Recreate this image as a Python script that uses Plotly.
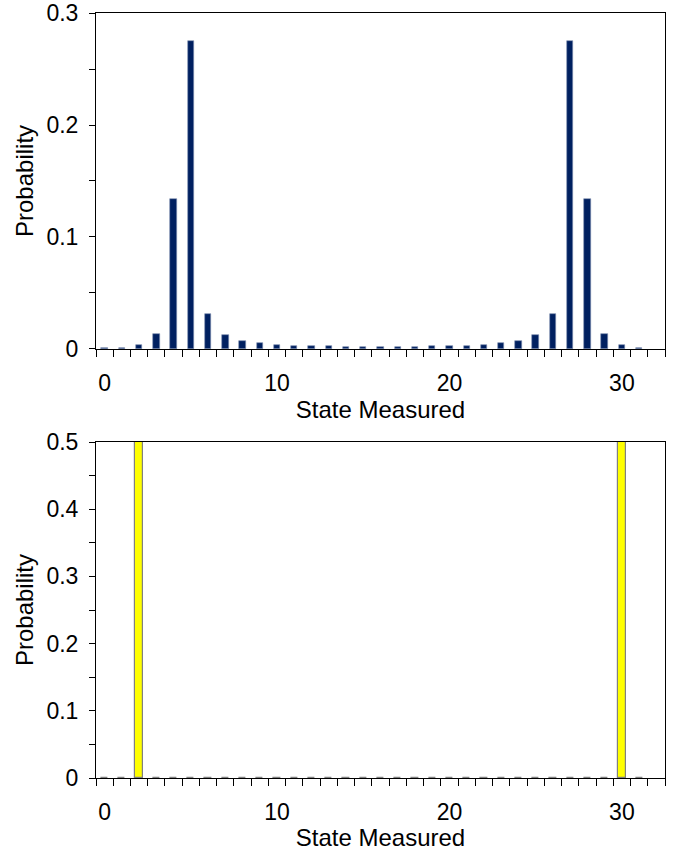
import plotly.graph_objects as go

states = list(range(32))
prob_top = [0.0006, 0.0009, 0.0033, 0.0131, 0.134, 0.275, 0.031, 0.0125, 0.0071, 0.005,
            0.0038, 0.003, 0.0026, 0.0023, 0.002, 0.0019, 0.0019, 0.0019, 0.002, 0.0023,
            0.0026, 0.003, 0.0038, 0.005, 0.0071, 0.0125, 0.031, 0.275, 0.134, 0.0131,
            0.0033, 0.0009]
prob_bottom = [0, 0, 0.5, 0, 0, 0, 0, 0, 0, 0, 0, 0, 0, 0, 0, 0,
               0, 0, 0, 0, 0, 0, 0, 0, 0, 0, 0, 0, 0, 0, 0.5, 0]
x_ticks = [0, 10, 20, 30]
y_ticks_top = [0, 0.1, 0.2, 0.3]
y_ticks_bottom = [0, 0.1, 0.2, 0.3, 0.4, 0.5]

FONT = "Liberation Sans, Arial, sans-serif"
FS_TICK = 23
FS_TITLE = 24

fig = go.Figure()
fig.add_trace(go.Bar(x=states, y=prob_top, width=0.37, xaxis="x", yaxis="y",
                     marker=dict(color="#002060", line=dict(color="#7f8fb0", width=0.6)),
                     showlegend=False))
fig.add_trace(go.Bar(x=states, y=prob_bottom, width=0.42, xaxis="x2", yaxis="y2",
                     marker=dict(color="#FFFF00", line=dict(color="#808080", width=1.2)),
                     showlegend=False))

def xax(anchor):
    return dict(anchor=anchor, range=[-0.5, 32.5], tickmode="array", tickvals=x_ticks,
                ticktext=[str(v) for v in x_ticks], ticks="", showgrid=False, zeroline=False,
                showline=True, linecolor="#000000", linewidth=1, mirror=True,
                automargin=False,
                minor=dict(tickmode="linear", tick0=-0.5, dtick=1, ticks="outside",
                           ticklen=7, tickcolor="#000000", tickwidth=1, showgrid=False),
                tickfont=dict(family=FONT, size=FS_TICK, color="#000000"),
                ticklabelstandoff=13,
                title=dict(text="State Measured", font=dict(family=FONT, size=FS_TITLE, color="#000000"),
                           standoff=0))

def yax(anchor, rng, vals, domain):
    return dict(anchor=anchor, domain=domain, range=rng, tickmode="array", tickvals=vals,
                ticktext=[("0" if v == 0 else f"{v:g}") for v in vals],
                ticks="outside", ticklen=6, tickcolor="#000000", tickwidth=1,
                showgrid=False, zeroline=False, showline=True, linecolor="#000000",
                linewidth=1, mirror=True, automargin=False,
                minor=dict(tickmode="linear", tick0=0, dtick=0.05, ticks="outside",
                           ticklen=6, tickcolor="#000000", tickwidth=1, showgrid=False),
                tickfont=dict(family=FONT, size=FS_TICK, color="#000000"),
                ticklabelstandoff=6,
                title=dict(text="Probability", font=dict(family=FONT, size=FS_TITLE, color="#000000"),
                           standoff=6))

fig.update_layout(
    width=677, height=851,
    margin=dict(l=96, r=12, t=13, b=73),
    paper_bgcolor="white", plot_bgcolor="white",
    xaxis=xax("y"),
    yaxis=yax("x", [0, 0.3], y_ticks_top, [0.5608, 1.0]),
    xaxis2=xax("y2"),
    yaxis2=yax("x2", [0, 0.5], y_ticks_bottom, [0.0, 0.4392]),
    bargap=0,
)

fig.write_html("out.html", config={"displayModeBar": False},
               post_script="document.body.style.margin='0';document.body.style.overflow='hidden';")
